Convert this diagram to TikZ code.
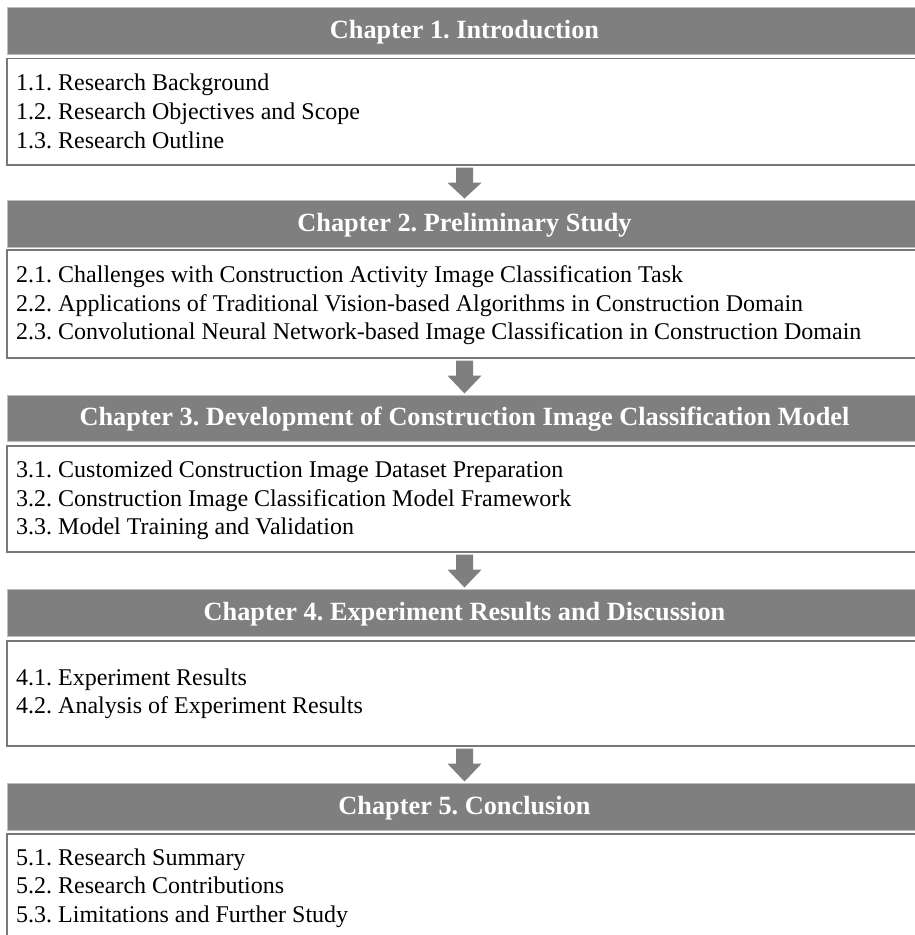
\documentclass[tikz,border=0pt]{standalone}
\usepackage{fontspec}
\setmainfont{Liberation Serif}
\usetikzlibrary{calc}
\frenchspacing
\definecolor{hdrgray}{RGB}{127,127,127}
\definecolor{hdrline}{RGB}{190,190,190}
\definecolor{boxline}{RGB}{120,120,120}
\tikzset{
  hdr/.style={rectangle, fill=hdrgray, draw=hdrline, line width=1pt, inner sep=0pt,
    minimum width=915pt},
  hdrtext/.style={text=white, font=\fontsize{26.3}{30}\selectfont\bfseries, inner sep=0pt, anchor=base},
  itembox/.style={rectangle, draw=boxline, line width=1.3pt, fill=white, inner sep=0pt,
    minimum width=915pt},
  item/.style={font=\fontsize{24}{28}\selectfont, inner sep=0pt, anchor=base west},
  flow/.style={fill=hdrgray}
}
% block arrow from the bottom of one box to the top of the next header
\newcommand\flowarrow[2]{%
  \fill[flow] let \p1=(#1.south), \p2=(#2.north) in
    (\x1-8.5pt,\y1-2pt) -- (\x1+8.5pt,\y1-2pt) -- (\x1+8.5pt,\y1-17pt)
    -- (\x1+17pt,\y1-17pt) -- (\x1,\y2+1pt) -- (\x1-17pt,\y1-17pt)
    -- (\x1-8.5pt,\y1-17pt) -- cycle;}
\begin{document}
\begin{tikzpicture}[x=1pt,y=-1pt]
\useasboundingbox (0,0) rectangle (914,935);

% Chapter 1
\node[hdr, minimum height=47pt] (h1) at (464.5,30.5) {};
\node[hdrtext] (h1t) at (464.5,38) {Chapter 1. Introduction};
\node[itembox, minimum height=106.5pt] (b1) at (464.5,111.8) {};
\node[item] (l11) at (16,90.7) {1.1. Research Background};
\node[item] (l12) at (16,119.3) {1.2. Research Objectives and Scope};
\node[item] (l13) at (16,148) {1.3. Research Outline};

% Chapter 2
\node[hdr, minimum height=47pt] (h2) at (464.5,223.5) {};
\node[hdrtext] (h2t) at (464.5,231) {Chapter 2. Preliminary Study};
\node[itembox, minimum height=108pt] (b2) at (464.5,304) {};
\node[item] (l21) at (16,282.5) {2.1. Challenges with Construction Activity Image Classification Task};
\node[item] (l22) at (16,311) {2.2. Applications of Traditional Vision-based Algorithms in Construction Domain};
\node[item] (l23) at (16,339.5) {2.3. Convolutional Neural Network-based Image Classification in Construction Domain};

% Chapter 3
\node[hdr, minimum height=46pt] (h3) at (464.5,418) {};
\node[hdrtext] (h3t) at (464.5,425.5) {Chapter 3. Development of Construction Image Classification Model};
\node[itembox, minimum height=106pt] (b3) at (464.5,499) {};
\node[item] (l31) at (16,477.5) {3.1. Customized Construction Image Dataset Preparation};
\node[item] (l32) at (16,506) {3.2. Construction Image Classification Model Framework};
\node[item] (l33) at (16,534.5) {3.3. Model Training and Validation};

% Chapter 4
\node[hdr, minimum height=47pt] (h4) at (464.5,612.5) {};
\node[hdrtext] (h4t) at (464.5,620) {Chapter 4. Experiment Results and Discussion};
\node[itembox, minimum height=105pt] (b4) at (464.5,693.5) {};
\node[item] (l41) at (16,685) {4.1. Experiment Results};
\node[item] (l42) at (16,713.5) {4.2. Analysis of Experiment Results};

% Chapter 5
\node[hdr, minimum height=47pt] (h5) at (464.5,806.5) {};
\node[hdrtext] (h5t) at (464.5,814) {Chapter 5. Conclusion};
\node[itembox, minimum height=115pt] (b5) at (464.5,891.5) {};
\node[item] (l51) at (16,865) {5.1. Research Summary};
\node[item] (l52) at (16,893.5) {5.2. Research Contributions};
\node[item] (l53) at (16,922) {5.3. Limitations and Further Study};

% arrows between chapters
\flowarrow{b1}{h2}
\flowarrow{b2}{h3}
\flowarrow{b3}{h4}
\flowarrow{b4}{h5}
\end{tikzpicture}
\end{document}
